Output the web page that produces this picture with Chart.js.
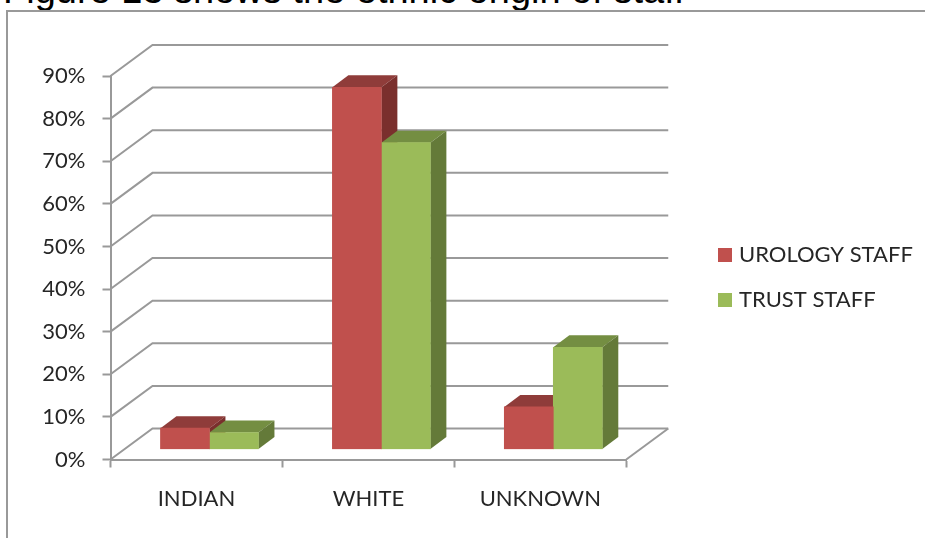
<!DOCTYPE html>
<html>
<head>
<meta charset="utf-8">
<style>
html,body{margin:0;padding:0;background:#fff;overflow:hidden}
#wrap{position:relative;width:925px;height:538px;overflow:hidden}
#cap{position:absolute;left:3px;top:-31px;font:38px "Liberation Sans",Arial,sans-serif;color:#000;white-space:nowrap}
#frame{position:absolute;left:6px;top:10px;width:930px;height:540px;border:2px solid #999;box-sizing:border-box}
canvas{position:absolute;left:0;top:0}
</style>
<script src="https://cdn.jsdelivr.net/npm/chart.js@4"></script>
</head>
<body>
<div id="wrap">
<div id="cap">Figure 13 shows the ethnic origin of staff</div>
<div id="frame"></div>
<canvas id="c" width="925" height="538"></canvas>
</div>
<script>
const categories = ['INDIAN', 'WHITE', 'UNKNOWN'];
const urologyStaff = [5, 85, 10];
const trustStaff = [4, 72, 24];
const seriesNames = ['UROLOGY STAFF', 'TRUST STAFF'];
const frontColors = ['#C0504D', '#9BBB59'];
const topColors = ['#8F3C3A', '#748E42'];
const sideColors = ['#7A2F2D', '#647A39'];
const gridColor = '#999999';
const textColor = '#262626';
const wall = {dx: 42, dy: -31};
const barShift = {dx: 13, dy: -10};
const barDepth = {dx: 16, dy: -12};

const depthPlugin = {
  id: 'depth',
  afterLayout(chart) {
    const lg = chart.legend;
    const h = lg.bottom - lg.top;
    lg.left = 699; lg.right = 925;
    lg.top = 221; lg.bottom = lg.top + h;
  },
  beforeDatasetsDraw(chart) {
    const {ctx, scales: {x, y}} = chart;
    ctx.save();
    ctx.strokeStyle = gridColor;
    ctx.lineWidth = 2;
    y.ticks.forEach(t => {
      const py = y.getPixelForValue(t.value);
      ctx.beginPath();
      ctx.moveTo(x.left, py);
      ctx.lineTo(x.left + wall.dx, py + wall.dy);
      ctx.lineTo(x.right + wall.dx, py + wall.dy);
      ctx.stroke();
    });
    const y0 = y.getPixelForValue(0);
    ctx.beginPath();
    ctx.moveTo(x.right, y0);
    ctx.lineTo(x.right + wall.dx, y0 + wall.dy);
    ctx.stroke();
    ctx.translate(barShift.dx, barShift.dy);
    categories.forEach((_, i) => {
      [0, 1].forEach(d => {
        const b = chart.getDatasetMeta(d).data[i];
        const l = b.x - b.width / 2, r = b.x + b.width / 2, t = b.y, bo = b.base;
        ctx.fillStyle = topColors[d];
        ctx.beginPath();
        ctx.moveTo(l, t);
        ctx.lineTo(l + barDepth.dx, t + barDepth.dy);
        ctx.lineTo(r + barDepth.dx, t + barDepth.dy);
        ctx.lineTo(r, t);
        ctx.closePath();
        ctx.fill();
        ctx.fillStyle = sideColors[d];
        ctx.beginPath();
        ctx.moveTo(r, t);
        ctx.lineTo(r + barDepth.dx, t + barDepth.dy);
        ctx.lineTo(r + barDepth.dx, bo + barDepth.dy);
        ctx.lineTo(r, bo);
        ctx.closePath();
        ctx.fill();
      });
    });
    ctx.restore();
    ctx.save();
    ctx.translate(barShift.dx, barShift.dy);
  },
  afterDatasetsDraw(chart) {
    chart.ctx.restore();
  }
};

new Chart(document.getElementById('c'), {
  type: 'bar',
  data: {
    labels: categories,
    datasets: [
      {label: seriesNames[0], data: urologyStaff, backgroundColor: frontColors[0], barThickness: 49},
      {label: seriesNames[1], data: trustStaff, backgroundColor: frontColors[1], barThickness: 49}
    ]
  },
  plugins: [depthPlugin],
  options: {
    responsive: false,
    animation: false,
    layout: {padding: {top: 76, right: 90, left: 0, bottom: 0}},
    plugins: {
      tooltip: {enabled: false},
      legend: {
        position: 'right',
        align: 'start',
        labels: {
          boxWidth: 6, boxHeight: 6, padding: 23,
          color: textColor,
          font: {family: 'Lato', size: 22},
          generateLabels: () => seriesNames.map((n, i) => ({
            text: n, fillStyle: frontColors[i], strokeStyle: frontColors[i],
            lineWidth: 8, fontColor: textColor, datasetIndex: i
          }))
        }
      }
    },
    scales: {
      x: {
        afterFit(s) { s.height = 78.5; },
        border: {color: gridColor, width: 2},
        grid: {drawOnChartArea: false, drawTicks: true, tickLength: 8, tickColor: gridColor, tickWidth: 2},
        ticks: {color: textColor, font: {family: 'Lato', size: 22}, padding: 18, maxRotation: 0}
      },
      y: {
        min: 0, max: 90,
        afterFit(s) { s.width = 110.5; },
        border: {color: gridColor, width: 2},
        grid: {drawOnChartArea: false, drawTicks: true, tickLength: 8, tickColor: gridColor, tickWidth: 2},
        ticks: {stepSize: 10, color: textColor, font: {family: 'Lato', size: 22}, padding: 17, callback: v => v + '%'}
      }
    }
  }
});
</script>
</body>
</html>
